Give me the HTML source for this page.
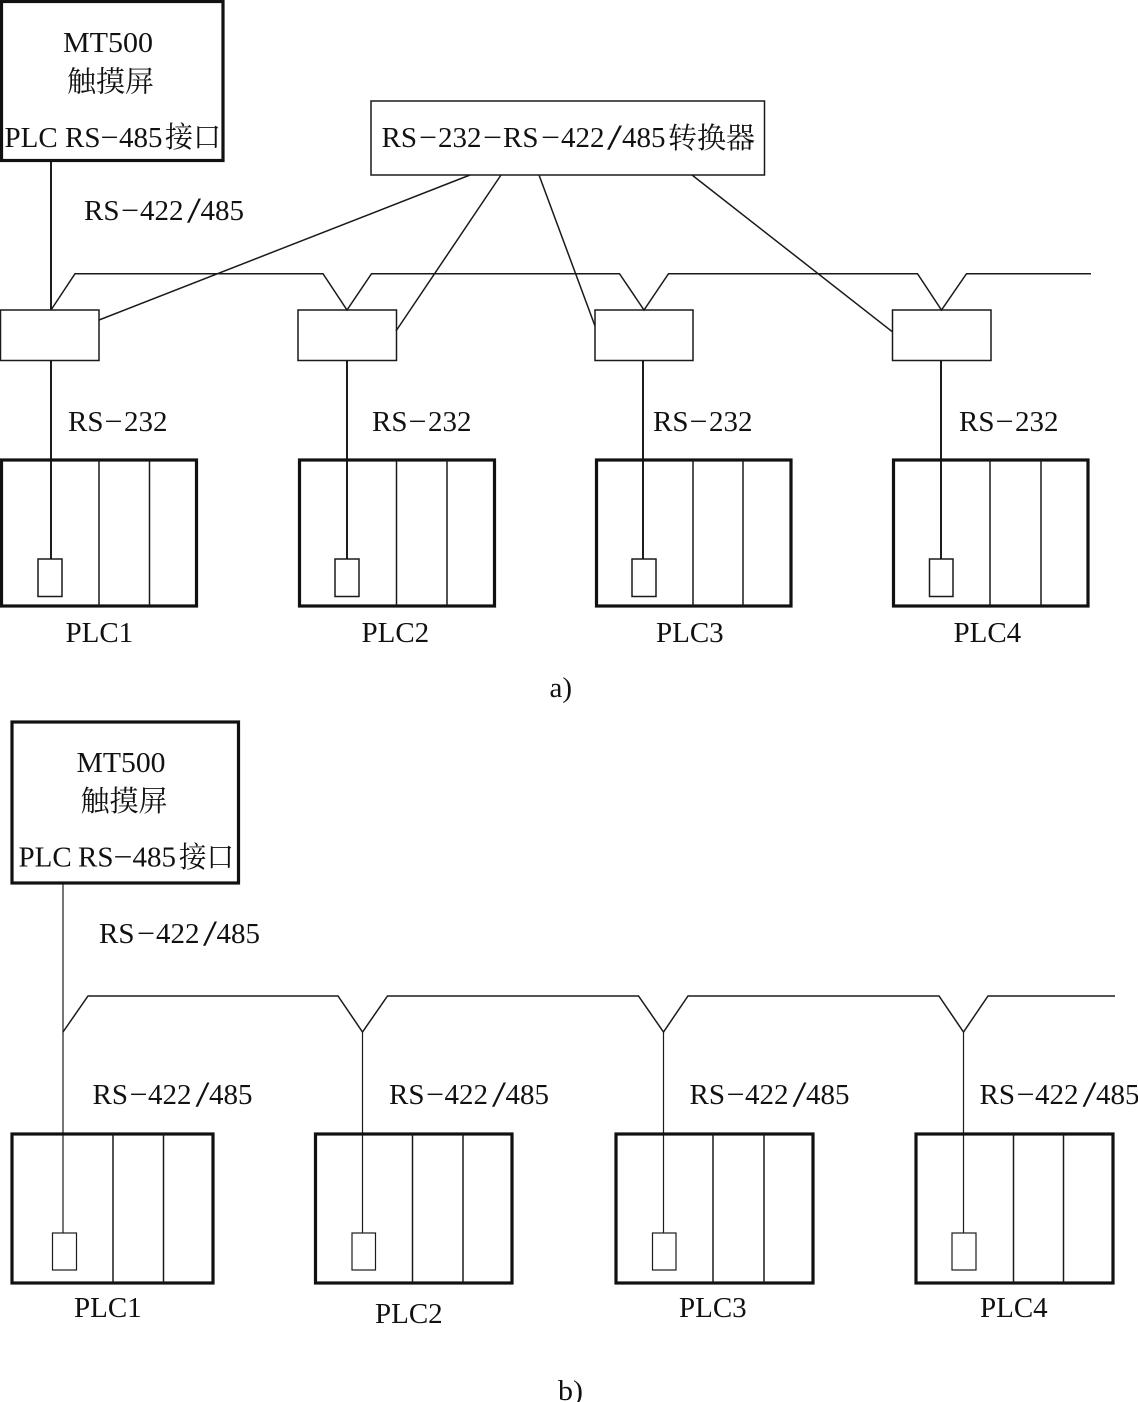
<!DOCTYPE html>
<html>
<head>
<meta charset="utf-8">
<style>
html,body{margin:0;padding:0;background:#fff;}
svg{display:block;}
text{font-family:"Liberation Serif","Noto Serif CJK SC",serif;font-size:29px;fill:#111;}
text.s{font-size:36px;}
.a{stroke:#1a1a1a;fill:none;stroke-width:1.5;}
.c{stroke:#1a1a1a;fill:none;stroke-width:1.2;}
.v{stroke:#111;fill:none;stroke-width:1.9;}
.b{stroke:#111;fill:none;stroke-width:3.2;}
</style>
</head>
<body>
<svg width="1138" height="1402" viewBox="0 0 1138 1402" xmlns="http://www.w3.org/2000/svg">
<!-- a) -->
<rect class="b" x="1.5" y="1.5" width="221.5" height="159"/>
<text x="63" y="52" textLength="90" lengthAdjust="spacingAndGlyphs">MT500</text>
<text x="67" y="91.5" textLength="87" lengthAdjust="spacingAndGlyphs">触摸屏</text>
<text x="4.5" y="147">PLC</text><text x="65" y="147">RS</text><text x="100.5" y="147" textLength="18" lengthAdjust="spacingAndGlyphs">−</text><text x="119" y="147">485</text><text x="165" y="147" textLength="56" lengthAdjust="spacingAndGlyphs">接口</text>

<rect class="a" x="371" y="101" width="393.5" height="74"/>
<text x="381.5" y="147">RS</text><text x="419" y="147" textLength="18" lengthAdjust="spacingAndGlyphs">−</text><text x="438" y="147">232</text><text x="483" y="147" textLength="19" lengthAdjust="spacingAndGlyphs">−</text><text x="503" y="147">RS</text><text x="541" y="147" textLength="19" lengthAdjust="spacingAndGlyphs">−</text><text x="561" y="147">422</text><text class="s" x="607" y="149" textLength="15" lengthAdjust="spacingAndGlyphs">/</text><text x="622" y="147">485</text><text x="668" y="148" textLength="87" lengthAdjust="spacingAndGlyphs">转换器</text>

<path class="v" d="M51 162V310"/>
<g transform="translate(84,220)"><text x="0" y="0">RS</text><text x="37" y="0" textLength="18" lengthAdjust="spacingAndGlyphs">−</text><text x="56" y="0">422</text><text class="s" x="103" y="2" textLength="14" lengthAdjust="spacingAndGlyphs">/</text><text x="116.5" y="0">485</text></g>

<path class="a" d="M51 310L75 273.7H323L347 310L371.5 273.7H619.5L644 310L668.5 273.7H917.5L941.5 310L966.5 273.7H1091"/>
<path class="a" d="M99 320L470 175M396 331L501 175M595 326L539 175M892 331.5L692 175"/>
<rect class="a" x="0.5" y="310" width="98.5" height="50.5"/>
<rect class="a" x="298" y="310" width="98.5" height="50.5"/>
<rect class="a" x="595" y="310" width="98" height="50.5"/>
<rect class="a" x="892.5" y="310" width="98.5" height="50.5"/>

<path class="v" d="M51 361V559M347 361V559M643 361V559M941 361V559"/>
<g transform="translate(68,431)"><text x="0" y="0">RS</text><text x="36.5" y="0" textLength="18" lengthAdjust="spacingAndGlyphs">−</text><text x="56" y="0">232</text></g>
<g transform="translate(372,431)"><text x="0" y="0">RS</text><text x="36.5" y="0" textLength="18" lengthAdjust="spacingAndGlyphs">−</text><text x="56" y="0">232</text></g>
<g transform="translate(653,431)"><text x="0" y="0">RS</text><text x="36.5" y="0" textLength="18" lengthAdjust="spacingAndGlyphs">−</text><text x="56" y="0">232</text></g>
<g transform="translate(959,431)"><text x="0" y="0">RS</text><text x="36.5" y="0" textLength="18" lengthAdjust="spacingAndGlyphs">−</text><text x="56" y="0">232</text></g>

<rect class="b" x="1.5" y="460" width="195" height="146"/>
<path class="a" d="M99 460V606M149.5 460V606"/>
<rect class="a" x="38" y="559" width="24" height="37.5"/>
<rect class="b" x="299.5" y="460" width="195" height="146"/>
<path class="a" d="M396.5 460V606M447 460V606"/>
<rect class="a" x="335" y="559" width="24" height="37.5"/>
<rect class="b" x="596.5" y="460" width="194.5" height="146"/>
<path class="a" d="M693 460V606M743 460V606"/>
<rect class="a" x="632" y="559" width="24" height="37.5"/>
<rect class="b" x="893.5" y="460" width="194.5" height="146"/>
<path class="a" d="M990 460V606M1041 460V606"/>
<rect class="a" x="929.5" y="559" width="23.5" height="37.5"/>

<text x="65.5" y="642">PLC1</text>
<text x="361.5" y="642">PLC2</text>
<text x="656" y="642">PLC3</text>
<text x="953.5" y="642">PLC4</text>
<text x="549.5" y="697">a)</text>

<!-- b) -->
<rect class="b" x="12" y="722" width="226.5" height="161"/>
<text x="76.5" y="772" textLength="89" lengthAdjust="spacingAndGlyphs">MT500</text>
<text x="80.5" y="811" textLength="87" lengthAdjust="spacingAndGlyphs">触摸屏</text>
<text x="18.5" y="866.5">PLC</text><text x="78" y="866.5">RS</text><text x="113.5" y="866.5" textLength="19" lengthAdjust="spacingAndGlyphs">−</text><text x="132.5" y="866.5">485</text><text x="179" y="867" textLength="55" lengthAdjust="spacingAndGlyphs">接口</text>

<path class="c" d="M63 884V1233"/>
<g transform="translate(99,943)"><text x="0" y="0">RS</text><text x="38" y="0" textLength="18" lengthAdjust="spacingAndGlyphs">−</text><text x="57" y="0">422</text><text class="s" x="104" y="2" textLength="14" lengthAdjust="spacingAndGlyphs">/</text><text x="117.5" y="0">485</text></g>

<path class="a" d="M63 1032L88 996H338L362.5 1032L387.5 996H638.5L663.5 1032L688 996H939L963.5 1032L988 996H1115"/>
<path class="c" d="M362.5 1032V1233M663.5 1032V1233M963.5 1032V1233"/>

<g transform="translate(92.5,1104)"><text x="0" y="0">RS</text><text x="37" y="0" textLength="18" lengthAdjust="spacingAndGlyphs">−</text><text x="55.5" y="0">422</text><text class="s" x="103" y="2" textLength="14" lengthAdjust="spacingAndGlyphs">/</text><text x="116.5" y="0">485</text></g>
<g transform="translate(389,1104)"><text x="0" y="0">RS</text><text x="37" y="0" textLength="18" lengthAdjust="spacingAndGlyphs">−</text><text x="55.5" y="0">422</text><text class="s" x="103" y="2" textLength="14" lengthAdjust="spacingAndGlyphs">/</text><text x="116.5" y="0">485</text></g>
<g transform="translate(689.5,1104)"><text x="0" y="0">RS</text><text x="37" y="0" textLength="18" lengthAdjust="spacingAndGlyphs">−</text><text x="55.5" y="0">422</text><text class="s" x="103" y="2" textLength="14" lengthAdjust="spacingAndGlyphs">/</text><text x="116.5" y="0">485</text></g>
<g transform="translate(979.5,1104)"><text x="0" y="0">RS</text><text x="37" y="0" textLength="18" lengthAdjust="spacingAndGlyphs">−</text><text x="55.5" y="0">422</text><text class="s" x="103" y="2" textLength="14" lengthAdjust="spacingAndGlyphs">/</text><text x="116.5" y="0">485</text></g>

<rect class="b" x="12" y="1134" width="201" height="149"/>
<path class="a" d="M113 1134V1283M163.5 1134V1283"/>
<rect class="c" x="52.5" y="1233" width="24" height="37"/>
<rect class="b" x="315.5" y="1134" width="196.5" height="149"/>
<path class="a" d="M412.5 1134V1283M463 1134V1283"/>
<rect class="c" x="352" y="1233" width="23.5" height="37"/>
<rect class="b" x="616" y="1134" width="197" height="149"/>
<path class="a" d="M713 1134V1283M764 1134V1283"/>
<rect class="c" x="652.5" y="1233" width="23.5" height="37"/>
<rect class="b" x="916" y="1134" width="197" height="149"/>
<path class="a" d="M1013.5 1134V1283M1063.5 1134V1283"/>
<rect class="c" x="952" y="1233" width="24" height="37"/>

<text x="74" y="1317">PLC1</text>
<text x="375" y="1323">PLC2</text>
<text x="679" y="1317">PLC3</text>
<text x="980" y="1317">PLC4</text>
<text x="558" y="1400" textLength="25" lengthAdjust="spacingAndGlyphs">b)</text>
</svg>
</body>
</html>
